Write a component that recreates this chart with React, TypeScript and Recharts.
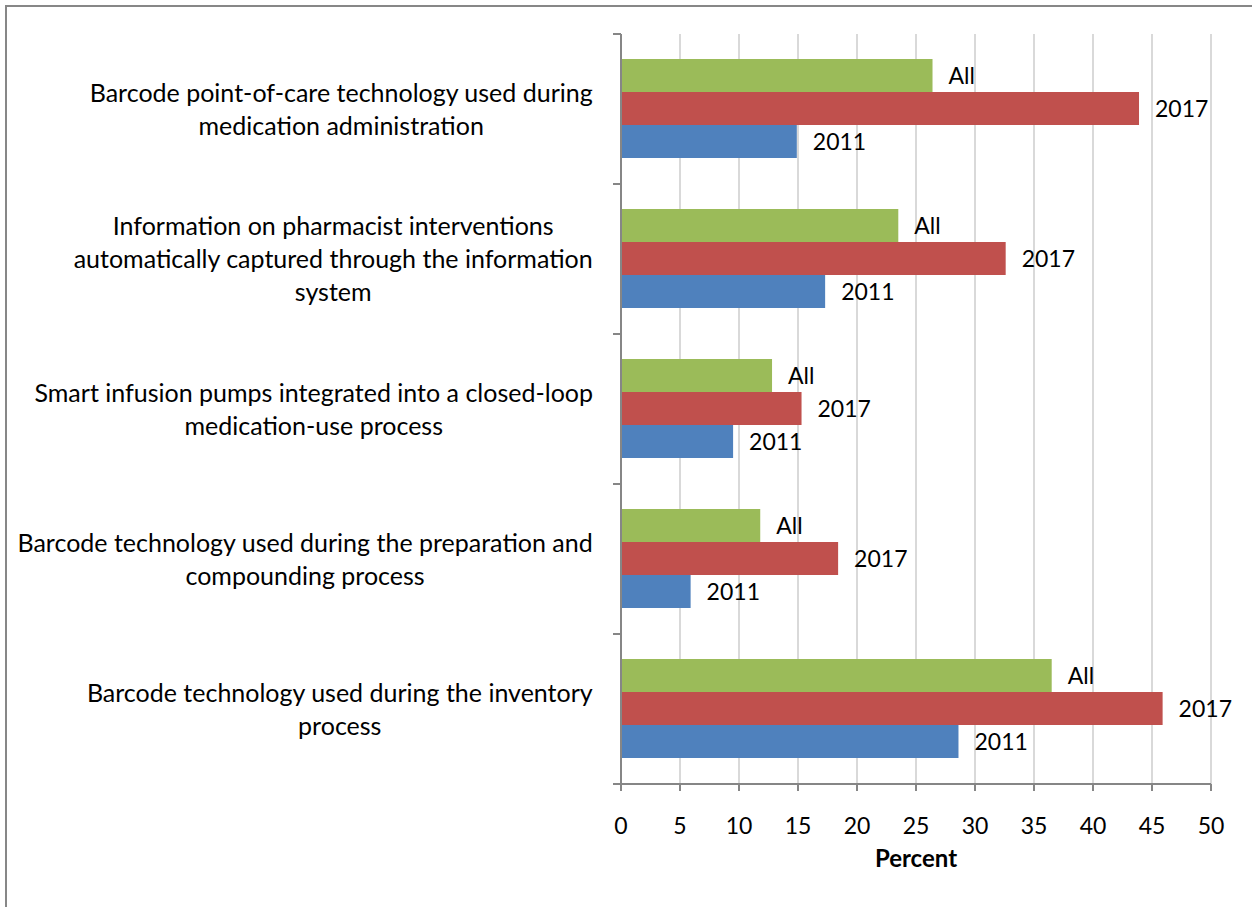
import React from "react";
import {
  BarChart,
  Bar,
  XAxis,
  YAxis,
  CartesianGrid,
  LabelList,
} from "recharts";

// categories, top to bottom, and the line breaks used in the axis labels
const categories = [
  "Barcode point-of-care technology used during medication administration",
  "Information on pharmacist interventions automatically captured through the information system",
  "Smart infusion pumps integrated into a closed-loop medication-use process",
  "Barcode technology used during the preparation and compounding process",
  "Barcode technology used during the inventory process",
];
const categoryLines = [
  ["Barcode point-of-care technology used during", "medication administration"],
  ["Information on pharmacist interventions", "automatically captured through the information", "system"],
  ["Smart infusion pumps integrated into a closed-loop", "medication-use process"],
  ["Barcode technology used during the preparation and", "compounding process"],
  ["Barcode technology used during the inventory", "process"],
];

const allValues = [26.4, 23.5, 12.8, 11.8, 36.5];
const values2017 = [43.9, 32.6, 15.3, 18.4, 45.9];
const values2011 = [14.9, 17.3, 9.5, 5.9, 28.6];

const xTicks = [0, 5, 10, 15, 20, 25, 30, 35, 40, 45, 50];

const data = categories.map((name, i) => ({
  name,
  all: allValues[i],
  y2017: values2017[i],
  y2011: values2011[i],
}));

const FONT = "Lato, 'Noto Sans', sans-serif";
const W = 1252;
const H = 907;
const MARGIN = { top: 34, right: 41, bottom: 0, left: 0 };
const X_AXIS_H = 123;
const AXIS_W = 621;
const HALF_BAND = (H - MARGIN.top - X_AXIS_H) / categories.length / 2;
const AXIS_COLOR = "#868686";
const CAT_SIZE = 25;

let ctx: CanvasRenderingContext2D | null = null;
function textWidth(s: string, size: number) {
  if (!ctx) ctx = document.createElement("canvas").getContext("2d");
  if (!ctx) return s.length * size * 0.5;
  ctx.font = `${size}px Lato`;
  return ctx.measureText(s).width;
}

function CategoryTick(props: any) {
  const { x, y, payload } = props;
  const idx = categories.indexOf(payload.value);
  const lines = categoryLines[idx] || [payload.value];
  const lh = 33;
  const w = Math.max(...lines.map((l) => textWidth(l, CAT_SIZE)));
  const cx = x - 28 - w / 2;
  const y0 = y - 1 - ((lines.length - 1) * lh) / 2;
  return (
    <g>
      <line x1={x - 8} x2={x} y1={y - HALF_BAND} y2={y - HALF_BAND} stroke={AXIS_COLOR} strokeWidth={2} />
      <line x1={x - 8} x2={x} y1={y + HALF_BAND} y2={y + HALF_BAND} stroke={AXIS_COLOR} strokeWidth={2} />
      <text textAnchor="middle" fontFamily={FONT} fontSize={CAT_SIZE} fill="#000">
        {lines.map((l, i) => (
          <tspan key={i} x={cx} y={y0 + i * lh} dominantBaseline="central">
            {l}
          </tspan>
        ))}
      </text>
    </g>
  );
}

const labelStyle = { fontSize: 23, fontFamily: FONT, fill: "#000" };

export default function App() {
  return (
    <div style={{ position: "fixed", left: 0, top: 0, width: W, height: H, overflow: "hidden", background: "#fff" }}>
      <div
        style={{
          position: "absolute",
          left: 5,
          top: 5,
          width: W + 40,
          height: H + 40,
          border: "2px solid #878787",
        }}
      />
      <div style={{ position: "absolute", left: 0, top: 0 }}>
        <BarChart
          width={W}
          height={H}
          data={data}
          layout="vertical"
          margin={MARGIN}
          barCategoryGap={25}
          barGap={0}
        >
          <CartesianGrid horizontal={false} stroke="#d9d9d9" strokeWidth={2} />
          <XAxis
            type="number"
            domain={[0, 50]}
            ticks={xTicks}
            interval={0}
            stroke={AXIS_COLOR}
            strokeWidth={2}
            tickSize={7}
            tickMargin={27}
            tick={{ fontSize: 23, fontFamily: FONT, fill: "#000" }}
            label={{
              value: "Percent",
              position: "insideTop",
              offset: 66,
              style: { fontSize: 24, fontFamily: FONT, fontWeight: 700, fill: "#000" },
            }}
            height={X_AXIS_H}
          />
          <YAxis
            type="category"
            dataKey="name"
            width={AXIS_W}
            stroke={AXIS_COLOR}
            strokeWidth={2}
            tickLine={false}
            tickSize={0}
            tickMargin={0}
            interval={0}
            tick={<CategoryTick />}
          />
          <Bar dataKey="all" fill="#9BBB59" isAnimationActive={false}>
            <LabelList dataKey="all" position="right" offset={16} formatter={() => "All"} style={labelStyle} />
          </Bar>
          <Bar dataKey="y2017" fill="#C0504D" isAnimationActive={false}>
            <LabelList dataKey="y2017" position="right" offset={16} formatter={() => "2017"} style={labelStyle} />
          </Bar>
          <Bar dataKey="y2011" fill="#4F81BD" isAnimationActive={false}>
            <LabelList dataKey="y2011" position="right" offset={16} formatter={() => "2011"} style={labelStyle} />
          </Bar>
        </BarChart>
      </div>
    </div>
  );
}
